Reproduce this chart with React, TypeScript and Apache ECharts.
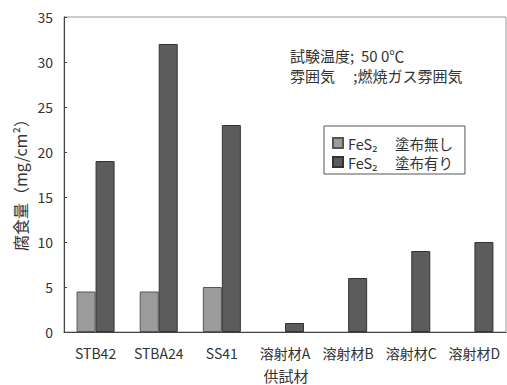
import React, { useEffect, useRef } from "react";
import * as echarts from "echarts";

const categories = ["STB42", "STBA24", "SS41", "溶射材A", "溶射材B", "溶射材C", "溶射材D"];
const uncoated: (number | null)[] = [4.5, 4.5, 5, null, null, null, null];
const coated: number[] = [19, 32, 23, 1, 6, 9, 10];
const seriesNames = ["FeS₂　 塗布無し", "FeS₂　 塗布有り"];
const yTicks = { min: 0, max: 35, interval: 5 };

const FONT = "'Noto Sans CJK JP', 'Noto Sans', sans-serif";
const TEXT = "#333";

export default function App() {
  const ref = useRef<HTMLDivElement>(null);

  useEffect(() => {
    if (!ref.current) return;
    const chart = echarts.init(ref.current, null, { renderer: "svg" });
    chart.setOption({
      animation: false,
      backgroundColor: "#fff",
      textStyle: { fontFamily: FONT, color: TEXT },
      grid: {
        left: 64,
        top: 17,
        right: 1,
        bottom: 53,
        show: true,
        borderColor: "#999",
        borderWidth: 1,
      },
      legend: {
        orient: "vertical",
        left: 324,
        top: 126,
        borderColor: "#555",
        borderWidth: 1,
        padding: [9, 12, 4, 8],
        itemWidth: 10,
        itemHeight: 10,
        itemGap: 3,
        icon: "rect",
        data: seriesNames,
        textStyle: {
          fontFamily: FONT,
          fontSize: 14.5,
          color: TEXT,
          lineHeight: 16,
        },
      },
      xAxis: {
        type: "category",
        data: categories,
        boundaryGap: true,
        axisLine: { lineStyle: { color: "#444", width: 1 } },
        axisTick: { inside: true, length: 4, lineStyle: { color: "#444" } },
        axisLabel: {
          interval: 0,
          margin: 14,
          fontSize: 14,
          fontFamily: FONT,
          color: TEXT,
        },
      },
      yAxis: {
        type: "value",
        min: yTicks.min,
        max: yTicks.max,
        interval: yTicks.interval,
        axisLine: { show: true, lineStyle: { color: "#444", width: 1 } },
        axisTick: { show: true, inside: true, length: 3, lineStyle: { color: "#444" } },
        splitLine: { show: false },
        axisLabel: { margin: 11, fontSize: 14, fontFamily: FONT, color: TEXT },
      },
      series: [
        {
          name: seriesNames[0],
          type: "bar",
          data: uncoated,
          barWidth: 19,
          barGap: "0%",
          itemStyle: { color: "#9c9c9c", borderColor: "#555", borderWidth: 1 },
        },
        {
          name: seriesNames[1],
          type: "bar",
          data: coated,
          barWidth: 19,
          barGap: "0%",
          itemStyle: { color: "#5c5c5c", borderColor: "#333", borderWidth: 1 },
        },
      ],
      graphic: [
        {
          type: "text",
          x: 20,
          y: 181,
          rotation: Math.PI / 2,
          style: {
            text: "腐食量（mg/cm²）",
            fontFamily: FONT,
            fontSize: 16,
            fill: TEXT,
            align: "center",
            verticalAlign: "middle",
          },
        },
        {
          type: "text",
          x: 286,
          y: 375,
          style: {
            text: "供試材",
            fontFamily: FONT,
            fontSize: 15,
            fill: TEXT,
            align: "center",
            verticalAlign: "middle",
          },
        },
        {
          type: "text",
          x: 290,
          y: 55,
          style: {
            text: "試験温度;  50 0℃",
            fontFamily: FONT,
            fontSize: 15,
            fill: TEXT,
            verticalAlign: "middle",
          },
        },
        {
          type: "text",
          x: 290,
          y: 75,
          style: {
            text: "雰囲気　 ;燃焼ガス雰囲気",
            fontFamily: FONT,
            fontSize: 15,
            fill: TEXT,
            verticalAlign: "middle",
          },
        },
      ],
    });
    return () => chart.dispose();
  }, []);

  return (
    <div
      ref={ref}
      style={{ position: "fixed", left: 0, top: 0, width: 507, height: 385 }}
    />
  );
}
